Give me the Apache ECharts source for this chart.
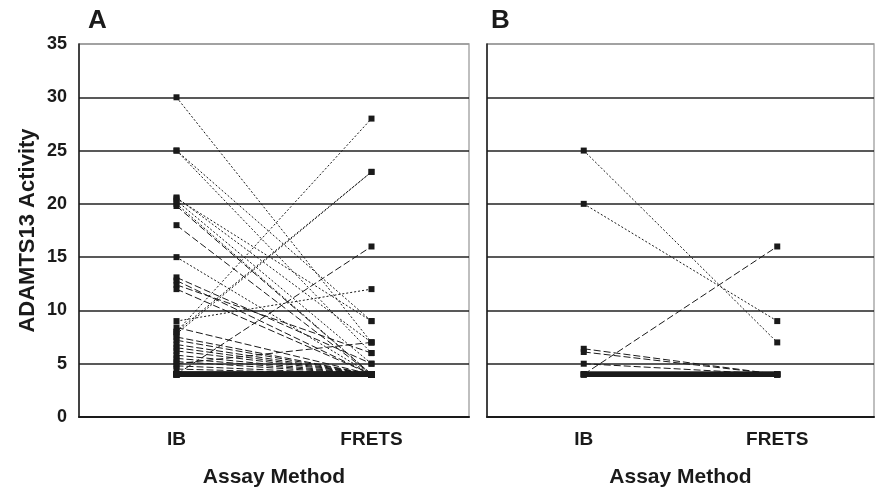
<!DOCTYPE html>
<html>
<head>
<meta charset="utf-8">
<script src="https://cdn.jsdelivr.net/npm/echarts@6/dist/echarts.min.js"></script>
<style>
html, body { margin: 0; padding: 0; background: #fff; }
#chart { width: 875px; height: 493px; }
</style>
</head>
<body>
<div id="chart"></div>
<script>
var categories = ['IB', 'FRETS'];
var yTicks = [0, 5, 10, 15, 20, 25, 30, 35];

// panel A, pairs drawn with fine dotted lines
var aDottedIB    = [30, 25, 25, 20.6, 20.5, 20.3, 20, 15, 9, 8, 8, 7.8];
var aDottedFrets = [7, 9, 6, 7, 9, 5, 4, 4, 12, 28, 23, 23];
// panel A, pairs drawn with long dashes
var aDashedIB    = [19.8, 18, 13.1, 12.8, 12.4, 12, 4, 5, 8.4, 7.5, 7.2, 6.8, 6.5, 6.2, 5.8, 5.5, 5.2, 4.8, 4.5];
var aDashedFrets = [4, 4, 5, 4, 6, 4, 16, 7, 4, 4, 4, 4, 4, 4, 4, 4, 4, 4, 4];
// panel A, pairs sitting on the detection floor at both methods
var aFloorIB    = [4, 4, 4, 4, 4, 4, 4, 4];
var aFloorFrets = [4, 4, 4, 4, 4, 4, 4, 4];

// panel B
var bDottedIB    = [25, 20];
var bDottedFrets = [7, 9];
var bDashedIB    = [4, 6.4, 6.1, 5];
var bDashedFrets = [16, 4, 4, 4];
var bFloorIB    = [4, 4, 4, 4];
var bFloorFrets = [4, 4, 4, 4];

var font = '"Liberation Sans", Arial, sans-serif';
var ink = '#1a1a1a';

function pairSeries(ib, frets, idx, dash, width) {
    var out = [];
    for (var i = 0; i < ib.length; i++) {
        out.push({
            type: 'line',
            xAxisIndex: idx,
            yAxisIndex: idx,
            data: [ib[i], frets[i]],
            symbol: 'rect',
            symbolSize: 6,
            itemStyle: { color: ink },
            lineStyle: { color: ink, width: width, type: dash },
            emphasis: { disabled: true },
            z: 3
        });
    }
    return out;
}

function xAxis(idx) {
    return {
        type: 'category',
        gridIndex: idx,
        data: categories,
        boundaryGap: true,
        name: 'Assay Method',
        nameLocation: 'middle',
        nameGap: 50,
        nameTextStyle: { fontFamily: font, fontWeight: 'bold', fontSize: 21, color: ink },
        axisLine: { lineStyle: { color: ink, width: 2 } },
        axisTick: { alignWithLabel: true, length: 6, lineStyle: { color: ink } },
        axisLabel: { fontFamily: font, fontWeight: 'bold', fontSize: 19, color: ink, margin: 13 }
    };
}

function yAxis(idx, showLabels) {
    var colors = yTicks.map(function(v) { return v === 35 ? '#999' : '#222'; });
    return {
        type: 'value',
        gridIndex: idx,
        min: 0,
        max: 35,
        interval: 5,
        name: showLabels ? 'ADAMTS13 Activity' : '',
        nameLocation: 'middle',
        nameGap: 40,
        nameTextStyle: { fontFamily: font, fontWeight: 'bold', fontSize: 22, color: ink },
        axisLine: { show: true, lineStyle: { color: ink, width: 1.5 } },
        axisTick: { show: false },
        axisLabel: { show: showLabels, fontFamily: font, fontWeight: 'bold', fontSize: 18, color: ink, margin: 12 },
        splitLine: { show: true, lineStyle: { color: colors, width: 1.5 } }
    };
}

var myChart = echarts.init(document.getElementById('chart'));
myChart.setOption({
    animation: false,
    backgroundColor: '#fff',
    title: [{
        text: 'A', left: 83, top: 3,
        textStyle: { fontFamily: font, fontWeight: 'bold', fontSize: 26, color: ink }
    }, {
        text: 'B', left: 486, top: 3,
        textStyle: { fontFamily: font, fontWeight: 'bold', fontSize: 26, color: ink }
    }],
    grid: [{
        left: 79, right: 406, top: 44, bottom: 75,
        show: true, borderColor: '#aaa', borderWidth: 1.5
    }, {
        left: 487, right: 1, top: 44, bottom: 75,
        show: true, borderColor: '#aaa', borderWidth: 1.5
    }],
    xAxis: [xAxis(0), xAxis(1)],
    yAxis: [yAxis(0, true), yAxis(1, false)],
    series: [].concat(
        pairSeries(aDottedIB, aDottedFrets, 0, [2, 2], 1),
        pairSeries(aDashedIB, aDashedFrets, 0, [7, 3], 1),
        pairSeries(aFloorIB, aFloorFrets, 0, 'solid', 5),
        pairSeries(bDottedIB, bDottedFrets, 1, [2, 2], 1),
        pairSeries(bDashedIB, bDashedFrets, 1, [7, 3], 1),
        pairSeries(bFloorIB, bFloorFrets, 1, 'solid', 5)
    )
});
</script>
</body>
</html>
